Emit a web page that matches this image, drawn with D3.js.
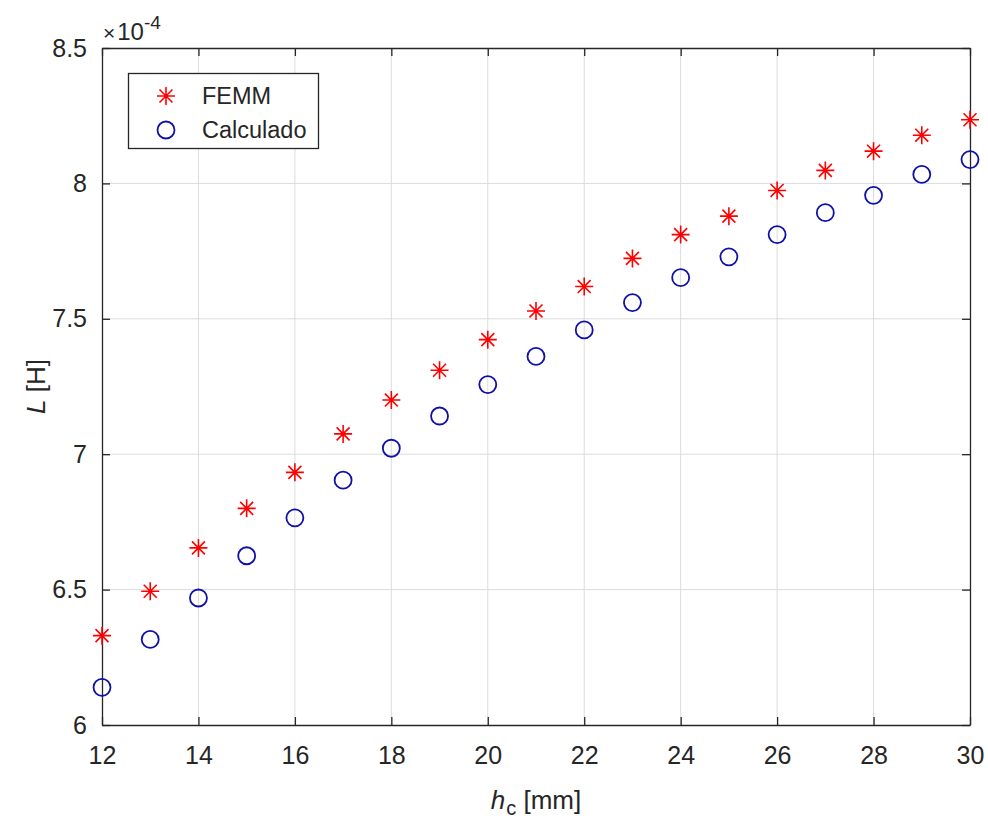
<!DOCTYPE html>
<html lang="es">
<head>
  <meta charset="UTF-8">
  <title>L vs h_c</title>
  <script src="https://d3js.org/d3.v7.min.js"></script>
  <style>
    body { margin: 0; background: #fff; }
    svg { font-family: "Liberation Sans", Arial, sans-serif; }
    .tick-label { font-size: 25px; fill: #262626; }
    .grid line { stroke: #dcdcdc; stroke-width: 1; }
  </style>
</head>
<body>
  <svg id="chart" width="988" height="819"></svg>

  <script>
    // data (L in units of 1e-4 H)
    const hc = [12, 13, 14, 15, 16, 17, 18, 19, 20, 21, 22, 23, 24, 25, 26, 27, 28, 29, 30];
    const femm = [6.330, 6.494, 6.654, 6.800, 6.933, 7.075, 7.200, 7.310, 7.423, 7.529, 7.619,
                  7.723, 7.811, 7.879, 7.974, 8.048, 8.119, 8.178, 8.235];
    const calculado = [6.139, 6.316, 6.469, 6.625, 6.765, 6.904, 7.022, 7.141, 7.257, 7.361, 7.459,
                       7.560, 7.652, 7.729, 7.811, 7.892, 7.956, 8.033, 8.088];
    const xTicks = [12, 14, 16, 18, 20, 22, 24, 26, 28, 30];
    const yTicks = [6, 6.5, 7, 7.5, 8, 8.5];

    const svg = d3.select("#chart");
    const pLeft = 102, pRight = 970, pTop = 48, pBottom = 725;
    const axisColor = "#262626";
    const tickLen = 8;

    const x = d3.scaleLinear().domain([12, 30]).range([pLeft, pRight]);
    const y = d3.scaleLinear().domain([6, 8.5]).range([pBottom, pTop]);

    // grid
    const grid = svg.append("g").attr("class", "grid");
    grid.selectAll(".gx").data(xTicks.slice(1, -1)).enter().append("line")
      .attr("x1", d => x(d)).attr("x2", d => x(d))
      .attr("y1", pTop).attr("y2", pBottom);
    grid.selectAll(".gy").data(yTicks.slice(1, -1)).enter().append("line")
      .attr("x1", pLeft).attr("x2", pRight)
      .attr("y1", d => y(d)).attr("y2", d => y(d));

    // axes (ticks inward, box on)
    const xBottom = svg.append("g").attr("transform", `translate(0,${pBottom})`)
      .call(d3.axisBottom(x).tickValues(xTicks).tickSizeInner(-tickLen).tickSizeOuter(0).tickPadding(20));
    const xTop = svg.append("g").attr("transform", `translate(0,${pTop})`)
      .call(d3.axisTop(x).tickValues(xTicks).tickSizeInner(-tickLen).tickSizeOuter(0).tickFormat(""));
    const yLeft = svg.append("g").attr("transform", `translate(${pLeft},0)`)
      .call(d3.axisLeft(y).tickValues(yTicks).tickSizeInner(-tickLen).tickSizeOuter(0).tickPadding(14)
        .tickFormat(d3.format("~g")));
    const yRight = svg.append("g").attr("transform", `translate(${pRight},0)`)
      .call(d3.axisRight(y).tickValues(yTicks).tickSizeInner(-tickLen).tickSizeOuter(0).tickFormat(""));

    [xBottom, xTop, yLeft, yRight].forEach(g => {
      g.attr("font-family", null).attr("font-size", null);
      g.select(".domain").attr("stroke", axisColor).attr("stroke-width", 1.3);
      g.selectAll(".tick line").attr("stroke", axisColor).attr("stroke-width", 1.3);
      g.selectAll(".tick text").attr("class", "tick-label").attr("fill", axisColor);
    });
    xBottom.selectAll(".tick text").attr("dy", "0.75em");
    yLeft.selectAll(".tick text").attr("dx", "-1");

    // exponent label
    const expo = svg.append("text").attr("x", pLeft + 1).attr("y", 40).attr("fill", axisColor)
      .attr("font-size", 24);
    expo.append("tspan").text("×").attr("font-size", 21);
    expo.append("tspan").text("10").attr("dx", 2);
    expo.append("tspan").text("-4").attr("dy", -11).attr("font-size", 19);

    // axis labels
    const xl = svg.append("text").attr("x", (pLeft + pRight) / 2).attr("y", 809)
      .attr("text-anchor", "middle").attr("fill", axisColor).attr("font-size", 26);
    xl.append("tspan").text("h").attr("font-style", "italic");
    xl.append("tspan").text("c").attr("font-size", 20).attr("dy", 6).attr("dx", 1);
    xl.append("tspan").text(" [mm]").attr("dy", -6);

    const yl = svg.append("text")
      .attr("transform", `translate(45,${(pTop + pBottom) / 2}) rotate(-90)`)
      .attr("text-anchor", "middle").attr("fill", axisColor).attr("font-size", 26);
    yl.append("tspan").text("L").attr("font-style", "italic");
    yl.append("tspan").text(" [H]");

    // markers
    const starPath = (r) => {
      const d = r * 0.72;
      return `M${-r},0L${r},0M0,${-r}L0,${r}M${-d},${-d}L${d},${d}M${-d},${d}L${d},${-d}`;
    };
    const red = "#ff0000", blue = "#1010a8";

    svg.append("g").selectAll("path").data(hc).enter().append("path")
      .attr("d", starPath(9))
      .attr("transform", (d, i) => `translate(${x(d)},${y(femm[i])})`)
      .attr("stroke", red).attr("stroke-width", 1.6).attr("fill", "none");

    svg.append("g").selectAll("circle").data(hc).enter().append("circle")
      .attr("cx", d => x(d)).attr("cy", (d, i) => y(calculado[i])).attr("r", 8.5)
      .attr("stroke", blue).attr("stroke-width", 1.8).attr("fill", "none");

    // legend
    const lg = svg.append("g");
    lg.append("rect").attr("x", 128.5).attr("y", 73.5).attr("width", 190).attr("height", 75)
      .attr("fill", "#fff").attr("stroke", axisColor).attr("stroke-width", 1.3);
    lg.append("path").attr("d", starPath(9)).attr("transform", "translate(166,96)")
      .attr("stroke", red).attr("stroke-width", 1.6).attr("fill", "none");
    lg.append("circle").attr("cx", 166).attr("cy", 130).attr("r", 8.5)
      .attr("stroke", blue).attr("stroke-width", 1.8).attr("fill", "none");
    lg.selectAll("text").data(["FEMM", "Calculado"]).enter().append("text")
      .attr("x", 202).attr("y", (d, i) => 96 + i * 34).attr("dy", "0.35em")
      .attr("font-size", 23.5).attr("fill", axisColor).text(d => d);
  </script>
</body>
</html>
